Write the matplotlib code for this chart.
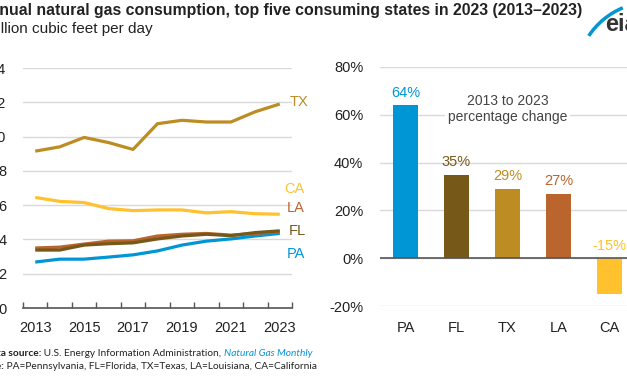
import matplotlib

matplotlib.use("Agg")
import matplotlib.pyplot as plt
import numpy as np
from matplotlib.patches import Arc

plt.rcParams["font.family"] = ["Liberation Sans", "DejaVu Sans"]

# --- data -------------------------------------------------------------------
years = list(range(2013, 2024))
tx = [9.15, 9.4, 9.95, 9.65, 9.25, 10.75, 10.95, 10.85, 10.85, 11.45, 11.9]
ca = [6.45, 6.22, 6.15, 5.8, 5.68, 5.72, 5.72, 5.55, 5.62, 5.5, 5.47]
la = [3.5, 3.55, 3.73, 3.9, 3.92, 4.2, 4.3, 4.35, 4.25, 4.35, 4.45]
fl = [3.38, 3.38, 3.67, 3.75, 3.8, 4.03, 4.2, 4.3, 4.22, 4.4, 4.5]
pa = [2.68, 2.85, 2.85, 2.97, 3.1, 3.33, 3.67, 3.9, 4.03, 4.2, 4.35]

states = ["PA", "FL", "TX", "LA", "CA"]
pct_change = [64, 35, 29, 27, -15]

year_ticks = [2013, 2015, 2017, 2019, 2021, 2023]
left_yticks = [0, 2, 4, 6, 8, 10, 12, 14]
right_yticks = [-20, 0, 20, 40, 60, 80]

colors = {
    "PA": "#0096d6",
    "FL": "#765819",
    "TX": "#bd8c22",
    "LA": "#b9652d",
    "CA": "#ffc12e",
}
TEXT = "#222222"
GRID = "#d9d9d9"

W, H = 627, 376


def px(x, y):
    return x / W, 1 - y / H


fig = plt.figure(figsize=(W / 100, H / 100), dpi=100)

# --- left: line chart -------------------------------------------------------
ax = fig.add_axes([23 / W, 1 - 308 / H, 269 / W, 240 / H])
series = [("TX", tx), ("CA", ca), ("PA", pa), ("LA", la), ("FL", fl)]
for name, vals in series:
    ax.plot(years, vals, color=colors[name], lw=2.3, solid_capstyle="butt", zorder=3)

label_y = {"TX": 12.0, "CA": 6.94, "LA": 5.83, "FL": 4.49, "PA": 3.15}
label_x = {"TX": 2023.4, "CA": 2023.2, "LA": 2023.3, "FL": 2023.35, "PA": 2023.3}
for name in label_y:
    ax.text(label_x[name], label_y[name], name, color=colors[name], fontsize=10.5,
            ha="left", va="center", clip_on=False)

ax.set_xlim(2012.5, 2023.5)
ax.set_ylim(0, 14)
ax.set_yticks(left_yticks)
ax.set_yticklabels([str(v) for v in left_yticks])
ax.set_xticks(year_ticks)
ax.set_xticklabels([str(y) for y in year_ticks])
ax.set_xticks(np.arange(2012.5, 2024, 1.0), minor=True)
ax.tick_params(axis="x", which="major", length=0, pad=9, labelsize=10.5, labelcolor=TEXT)
ax.tick_params(axis="x", which="minor", length=4, direction="in", width=1, color="#555555")
ax.tick_params(axis="y", length=0, pad=12, labelsize=10.5, labelcolor=TEXT)
ax.grid(axis="y", color=GRID, lw=1)
ax.set_axisbelow(True)
for side in ["top", "right", "left"]:
    ax.spines[side].set_visible(False)
ax.spines["bottom"].set_color("#555555")
ax.spines["bottom"].set_linewidth(1.2)

# --- right: bar chart -------------------------------------------------------
bx = fig.add_axes([380 / W, 1 - 306 / H, 255 / W, 239 / H])
xpos = np.arange(len(states))
bx.bar(xpos, pct_change, width=0.5, color=[colors[s] for s in states], zorder=3)
for x, v, s in zip(xpos, pct_change, states):
    bx.annotate(f"{v}%", (x, max(v, 0)), xytext=(0, 4), textcoords="offset points",
                ha="center", va="bottom", fontsize=10.5, color=colors[s])
bx.axhline(0, color="#555555", lw=1.2, zorder=4)
bx.set_xlim(-0.5, 4.5)
bx.set_ylim(-20, 80)
bx.set_yticks(right_yticks)
bx.set_yticklabels([f"{v}%" for v in right_yticks])
bx.set_xticks(xpos)
bx.set_xticklabels(states)
bx.tick_params(axis="x", length=0, pad=11, labelsize=10.5, labelcolor=TEXT)
bx.tick_params(axis="y", length=0, pad=12, labelsize=10.5, labelcolor=TEXT)
bx.grid(axis="y", color=GRID, lw=1)
bx.set_axisbelow(True)
for side in bx.spines:
    bx.spines[side].set_visible(False)
bx.text(2.0, 62.5, "2013 to 2023\npercentage change", ha="center", va="center",
        fontsize=10, color="#444444", linespacing=1.2, zorder=5,
        bbox=dict(facecolor="white", edgecolor="none", pad=2))

# --- titles -----------------------------------------------------------------
fig.text(*px(582, 11),
         "Annual natural gas consumption, top five consuming states in 2023 (2013\u20132023)",
         ha="right", va="center", fontsize=11.4, weight="bold", color=TEXT)
fig.text(*px(153, 29), "billion cubic feet per day", ha="right", va="center",
         fontsize=11, color=TEXT)

# --- footer -----------------------------------------------------------------
FOOT = ["Lato", "DejaVu Sans"]
FS = 7.3
t_src = fig.text(*px(312, 358), "Natural Gas Monthly", ha="right", va="bottom",
                 fontsize=FS, style="italic", color="#0096d6", family=FOOT)
a1 = fig.add_artist(plt.Annotation(" U.S. Energy Information Administration, ", (0, 0),
                                   xycoords=t_src, ha="right", va="bottom", fontsize=FS,
                                   color=TEXT, family=FOOT))
fig.add_artist(plt.Annotation("Data source:", (0, 0), xycoords=a1, ha="right", va="bottom",
                              fontsize=FS, weight="bold", color=TEXT, family=FOOT))
t_note = fig.text(*px(317, 371),
                  " PA=Pennsylvania, FL=Florida, TX=Texas, LA=Louisiana, CA=California",
                  ha="right", va="bottom", fontsize=FS, color=TEXT, family=FOOT)
fig.add_artist(plt.Annotation("Note:", (0, 0), xycoords=t_note, ha="right", va="bottom",
                              fontsize=FS, weight="bold", color=TEXT, family=FOOT))

# --- eia logo ---------------------------------------------------------------
fig.text(*px(605, 31), "eia", ha="left", va="baseline", fontsize=17, weight="bold",
         color="#333333")
cx, cy = px(652, 78)
fig.add_artist(Arc((cx, cy), 152 / W, 152 / H, theta1=104, theta2=132,
                   transform=fig.transFigure, color="#0096d6", lw=2.5))

fig.savefig("out.png", dpi=100)
